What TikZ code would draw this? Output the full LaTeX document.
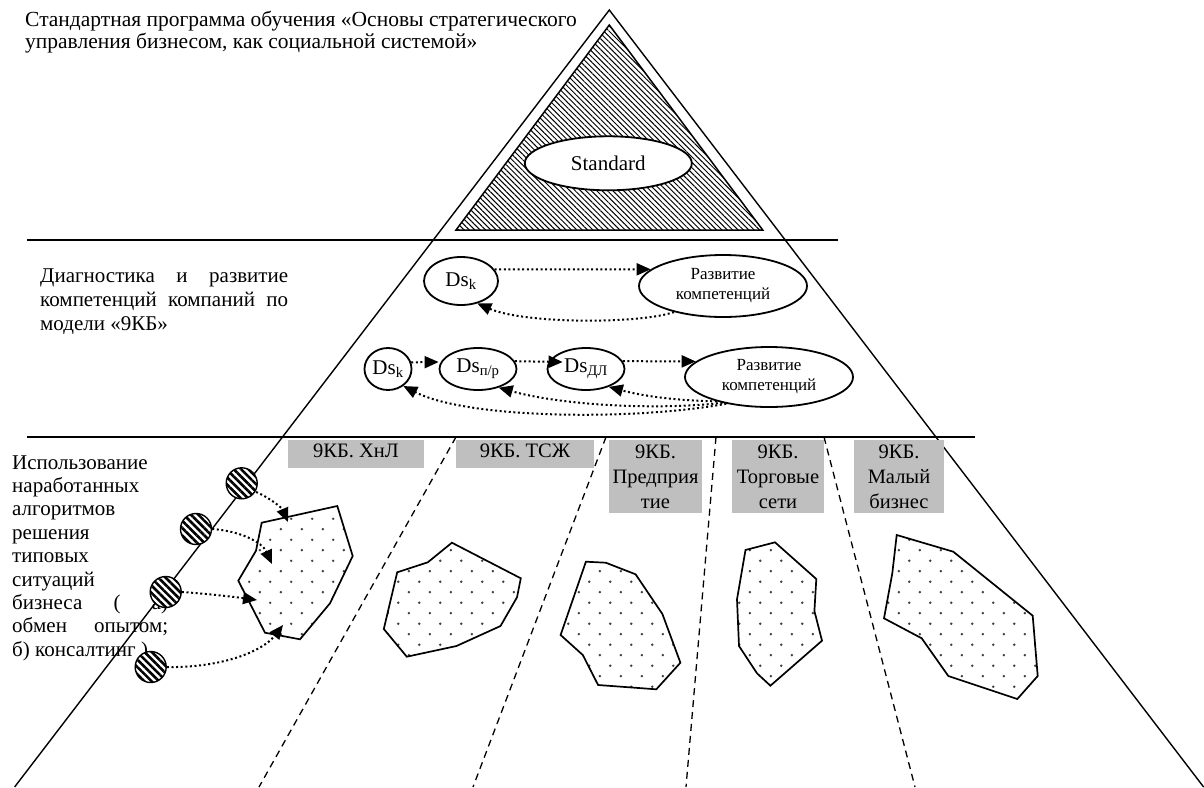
\documentclass[tikz,border=0pt]{standalone}
\usepackage{fontspec}
\setmainfont{Liberation Serif}
\usetikzlibrary{arrows.meta,patterns.meta,shapes.geometric,calc}

% staggered grid of small dots used inside the irregular regions
\pgfdeclarepatternformonly{sparsedots}{\pgfpointorigin}{\pgfpoint{21.3pt}{21.3pt}}{\pgfpoint{21.3pt}{21.3pt}}{%
  \pgfpathcircle{\pgfpoint{5pt}{5pt}}{1.4pt}%
  \pgfpathcircle{\pgfpoint{15.65pt}{15.65pt}}{1.4pt}%
  \pgfusepath{fill}}

\tikzset{
  body/.style={font=\fontsize{21}{24}\selectfont, inner sep=0pt, anchor=base west},
  frame/.style={line width=1.4pt},
  oval/.style={ellipse, draw, line width=1.8pt, inner sep=0pt, font=\fontsize{21}{24}\selectfont},
  devoval/.style={oval, align=center, font=\fontsize{17}{20}\selectfont},
  dotarrow/.style={line width=2pt, dash pattern=on 2pt off 2.6pt, -{Triangle[length=14pt,width=12pt]}},
  hatch/.style={draw, line width=1.5pt, pattern={Lines[angle=-45,distance=3.8pt,line width=1.0pt]}},
  stripecirc/.style={circle, draw, line width=1.4pt, minimum size=31pt, inner sep=0pt,
    preaction={fill=white}, pattern={Lines[angle=-45,distance=5.2pt,line width=2.6pt]}},
  blob/.style={draw, line width=1.7pt, line join=miter, pattern=sparsedots, pattern color=black!75},
  divider/.style={line width=1.3pt, dash pattern=on 7pt off 5pt},
  graybox/.style={fill=black!25, inner sep=0pt, font=\fontsize{20.5}{25}\selectfont, align=center}
}

\begin{document}
\begin{tikzpicture}[x=1pt,y=-1pt]
\useasboundingbox (0,0) rectangle (1204,787);

% ---- captions on the left ----
\node[body, font=\fontsize{21.5}{21}\selectfont] (head1) at (25,27) {Стандартная программа обучения «Основы стратегического};
\node[body, font=\fontsize{21.5}{21}\selectfont] (head2) at (25,48) {управления бизнесом, как социальной системой»};

\node[body] (mid1) at (40,282) {\makebox[248pt][s]{Диагностика и развитие}};
\node[body] (mid2) at (40,306) {\makebox[248pt][s]{компетенций компаний по}};
\node[body] (mid3) at (40,330) {модели «9КБ»};

\node[body] (low1) at (12,469.0) {Использование};
\node[body] (low2) at (12,492.4) {наработанных};
\node[body] (low3) at (12,515.8) {алгоритмов};
\node[body] (low4) at (12,539.2) {решения};
\node[body] (low5) at (12,562.6) {типовых};
\node[body] (low6) at (12,586.0) {ситуаций};
\node[body] (low7) at (12,609.4) {\makebox[156pt][s]{бизнеса ( а)}};
\node[body] (low8) at (12,632.8) {\makebox[156pt][s]{обмен опытом;}};
\node[body] (low9) at (12,656.2) {б) консалтинг )};

% ---- level separators ----
\draw[frame] (27,240) -- (838,240);
\draw[frame] (27,437) -- (975,437);

% ---- dashed sector dividers ----
\draw[divider] (456,437) -- (259,787);
\draw[divider] (606,437) -- (473,787);
\draw[divider] (716,437) -- (686,787);
\draw[divider] (824,437) -- (915,787);

% ---- pyramid ----
\draw[frame] (14.6,787) -- (609.3,10) -- (1203.6,787);
\draw[hatch] (456,230) -- (609.3,25) -- (762.7,230) -- cycle;
\node[oval, fill=white, minimum width=167pt, minimum height=54pt] (std) at (608.3,163.3) {Standard};

% ---- sector labels ----
\node[graybox, minimum width=136pt, minimum height=28pt, text height=14pt, text depth=8pt] (bx1) at (356,454) {9КБ. ХнЛ};
\node[graybox, minimum width=138pt, minimum height=28pt, text height=14pt, text depth=8pt] (bx2) at (525,454) {9КБ. ТСЖ};
\node[graybox, minimum width=93pt, minimum height=73pt] (bx3) at (655.5,476.5) {9КБ.\\Предприя\\тие};
\node[graybox, minimum width=92pt, minimum height=73pt] (bx4) at (778,476.5) {9КБ.\\Торговые\\сети};
\node[graybox, minimum width=90pt, minimum height=73pt] (bx5) at (899,476.5) {9КБ.\\Малый\\бизнес};

% ---- competence diagnostics ----
\node[oval, minimum width=74pt, minimum height=48pt] (dsA) at (461,281) {Ds\textsubscript{k}};
\node[devoval, minimum width=168pt, minimum height=62pt] (devA) at (723,286) {Развитие\\компетенций};
\draw[dotarrow] (dsA.19) -- (devA.167);
\draw[dotarrow] (devA.208) .. controls (640,324) and (525,324) .. (dsA.-54);

\node[oval, minimum width=47pt, minimum height=42pt] (dsB) at (388,369) {Ds\textsubscript{k}};
\node[oval, minimum width=77pt, minimum height=42pt] (dsC) at (478,369) {Ds\textsubscript{п/р}};
\node[oval, minimum width=77pt, minimum height=42pt] (dsD) at (586,369) {Ds\textsubscript{ДЛ}};
\node[devoval, minimum width=168pt, minimum height=60pt] (devB) at (769,377) {Развитие\\компетенций};
\draw[dotarrow] (dsB.16) -- ($(dsC.west)+(0,-7)$);
\draw[dotarrow] (dsC.12) -- ($(dsD.west)+(16,-7)$);
\draw[dotarrow] (dsD.12) -- (devB.168);
\draw[dotarrow] (devB.205) .. controls (690,401) and (650,398) .. (dsD.-38);
\draw[dotarrow] (devB.209) .. controls (660,410) and (565,406) .. (dsC.-42);
\draw[dotarrow] (devB.212) .. controls (640,420) and (470,420) .. (dsB.-48);

% ---- business situations ----
\draw[blob] (261.7,522.7) -- (337.3,506) -- (352.7,556) -- (330,603.3) -- (300,639.3)
  -- (265,632.7) -- (238.3,580.7) -- (256,550.7) -- cycle;
\draw[blob] (397.2,572.3) -- (427.8,562.3) -- (451.9,542.7) -- (520.8,578.3) -- (517,597.3)
  -- (500.5,626) -- (456.5,646) -- (406.8,656.7) -- (383.8,629) -- cycle;
\draw[blob] (585.9,561.7) -- (605.8,562.7) -- (635.6,574.3) -- (662.4,614) -- (680.4,662.7)
  -- (656.3,689.3) -- (598.1,685) -- (582.8,655) -- (560.6,635) -- cycle;
\draw[blob] (745.5,550) -- (775,542.3) -- (816.3,579) -- (814.4,611) -- (822,640.7)
  -- (770.4,685.7) -- (757,673.3) -- (739,646) -- (737,599.3) -- cycle;
\draw[blob] (896.7,535) -- (953.3,551.7) -- (1032.7,615.7) -- (1037.7,676) -- (1017.3,699)
  -- (948.3,676) -- (921.7,638.3) -- (884,618.3) -- (892.3,573.3) -- cycle;

% ---- algorithm markers and their links ----
\node[stripecirc] (c1) at (241.7,483.3) {};
\node[stripecirc] (c2) at (196,529) {};
\node[stripecirc] (c3) at (165.7,592) {};
\node[stripecirc] (c4) at (150.7,667) {};
\coordinate (t1) at (288,522);
\coordinate (t2) at (272,564);
\coordinate (t3) at (257,600);
\coordinate (t4) at (283,625);
\draw[dotarrow] (c1.-31) .. controls (270,498) and (282,508) .. (t1);
\draw[dotarrow] (c2.east) .. controls (240,531) and (262,542) .. (t2);
\draw[dotarrow] (c3.east) .. controls (210,594) and (235,597) .. (t3);
\draw[dotarrow] (c4.east) .. controls (220,668) and (262,652) .. (t4);
\end{tikzpicture}
\end{document}
